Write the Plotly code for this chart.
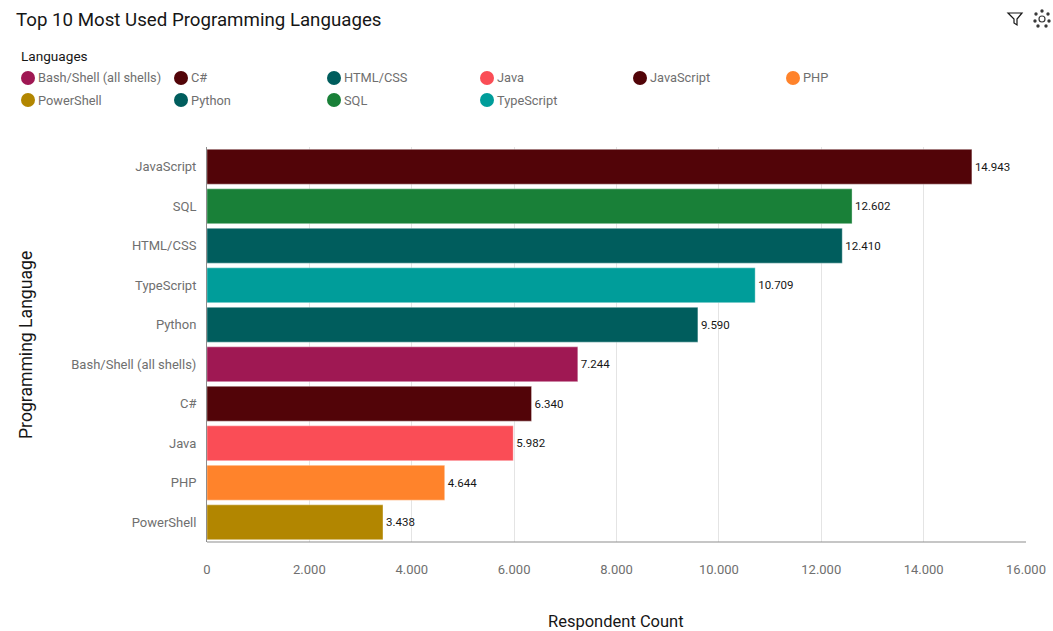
import plotly.graph_objects as go

W, H = 1053, 631
L, R, T, B = 207, 1026, 147, 542

languages = ["Bash/Shell (all shells)", "C#", "HTML/CSS", "Java", "JavaScript", "PHP",
             "PowerShell", "Python", "SQL", "TypeScript"]
counts = [7244, 6340, 12410, 5982, 14943, 4644, 3438, 9590, 12602, 10709]
colors = ["#9f1853", "#520408", "#005d5d", "#fa4d56", "#520408", "#ff832b",
          "#b28600", "#005d5d", "#198038", "#009d9a"]
category_order = ["PowerShell", "PHP", "Java", "C#", "Bash/Shell (all shells)", "Python",
                  "TypeScript", "HTML/CSS", "SQL", "JavaScript"]
x_ticks = [0, 2000, 4000, 6000, 8000, 10000, 12000, 14000, 16000]

FONT = "Roboto"
fig = go.Figure()

for lang, val, col in zip(languages, counts, colors):
    fig.add_trace(go.Bar(
        x=[val], y=[lang], orientation="h", name=lang, showlegend=False,
        marker=dict(color=col, line=dict(color="rgba(255,255,255,0.35)", width=1)),
        text=[f"{val:,}".replace(",", ".")], textposition="outside", cliponaxis=False,
        textfont=dict(size=11.5, color="#161616", family=FONT),
    ))


def px(v):
    return (v - L) / (R - L)


def py(v):
    return (B - v) / (B - T)


def ann(text, x, y, size, color, anchor="left", angle=0):
    fig.add_annotation(text=text, x=px(x), y=py(y), xref="paper", yref="paper",
                       showarrow=False, xanchor=anchor, yanchor="middle", textangle=angle,
                       borderpad=0, font=dict(size=size, color=color, family=FONT))


ann("Top 10 Most Used Programming Languages", 15, 20, 18.7, "#161616")
ann("Programming Language", 26, 345, 17.6, "#161616", "center", -90)
ann("Respondent Count", 616, 621, 16.5, "#161616", "center")
ann("Languages", 20, 56, 13.6, "#161616")

shapes = []
# legend built from the language lists: six columns, two rows
for i, (lang, col) in enumerate(zip(languages, colors)):
    cx = 28 + 153 * (i % 6)
    cy = 78 + 22 * (i // 6)
    shapes.append(dict(type="circle", xref="paper", yref="paper",
                       x0=px(cx - 7), x1=px(cx + 7), y0=py(cy + 7), y1=py(cy - 7),
                       line=dict(width=0), fillcolor=col))
    ann(lang, cx + 9, cy, 12.8, "#6f6f6f")

# toolbar icons
shapes.append(dict(type="path", xref="paper", yref="paper",
                   path=f"M {px(1008)} {py(13)} L {px(1022)} {py(13)} L {px(1017)} {py(19)} "
                        f"L {px(1017)} {py(25)} L {px(1014)} {py(23)} L {px(1014)} {py(19)} Z",
                   line=dict(color="#161616", width=1.2), fillcolor="white"))
dots = [(1042, 11), (1048, 14), (1049, 21), (1046, 26), (1038, 26), (1035, 21), (1036, 14)]
for dx, dy in dots:
    shapes.append(dict(type="circle", xref="paper", yref="paper",
                       x0=px(dx - 1.7), x1=px(dx + 1.7), y0=py(dy + 1.7), y1=py(dy - 1.7),
                       line=dict(width=0), fillcolor="#393939"))
shapes.append(dict(type="circle", xref="paper", yref="paper",
                   x0=px(1039), x1=px(1045), y0=py(22), y1=py(16),
                   line=dict(color="#393939", width=1.2), fillcolor="white"))
shapes.append(dict(type="line", xref="paper", yref="paper", x0=0, x1=1, y0=0, y1=0,
                   line=dict(color="#8d8d8d", width=1)))

fig.update_layout(
    width=W, height=H,
    margin=dict(l=L, r=W - R, t=T, b=H - B, autoexpand=False),
    paper_bgcolor="white", plot_bgcolor="white",
    separators=",.",
    barmode="overlay",
    bargap=0.12,
    showlegend=False,
    font=dict(family=FONT, size=13, color="#6f6f6f"),
    shapes=shapes,
    xaxis=dict(
        range=[0, 16000], tickvals=x_ticks, tickformat=",d", automargin=False,
        showgrid=True, gridcolor="#e4e4e4", gridwidth=1, zeroline=False,
        showline=False, ticks="", tickfont=dict(size=13, color="#6f6f6f"), ticklabelstandoff=18,
    ),
    yaxis=dict(
        type="category", categoryorder="array", categoryarray=category_order, automargin=False,
        showgrid=False, showline=True, linecolor="#8d8d8d", linewidth=1,
        ticks="", tickfont=dict(size=13, color="#6f6f6f"), ticklabelstandoff=7,
    ),
)

fig.write_html("out.html", config=dict(displayModeBar=False),
               post_script="document.body.style.margin='0';document.body.style.overflow='hidden';")
